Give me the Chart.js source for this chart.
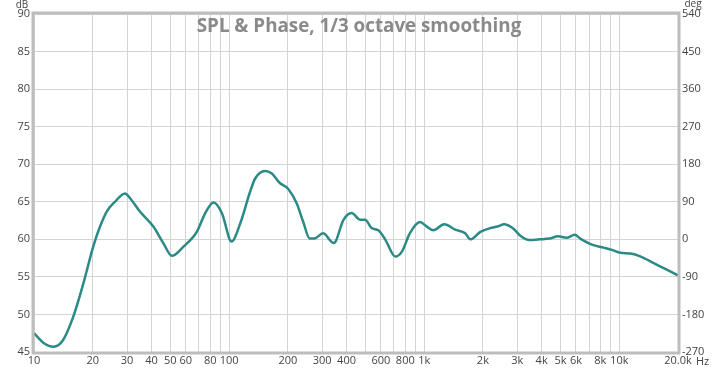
<!DOCTYPE html>
<html>
<head>
<meta charset="utf-8">
<script src="https://cdn.jsdelivr.net/npm/chart.js@4.4.1/dist/chart.umd.min.js"></script>
<style>
  html, body { margin: 0; padding: 0; background: #fff; }
  #wrap { width: 720px; height: 369px; position: relative; }
</style>
</head>
<body>
<div id="wrap"><canvas id="spl"></canvas></div>
<script>
// frequency (Hz) and SPL (dB)
var freqs = [10, 11.2, 12.6, 14.1, 15.9, 17.9, 20.1, 21.8, 23.6, 26, 29.3, 31, 34.9, 40.9, 46, 50.9,
  58.2, 68.3, 75.5, 83.2, 91.8, 103, 114, 128, 136, 153, 165, 182, 201, 222, 240, 259, 274, 303, 344,
  386, 425, 470, 498, 538, 582, 631, 711, 770, 844, 951, 1031, 1115, 1267, 1441, 1623, 1725, 1942,
  2187, 2373, 2572, 2839, 3134, 3460, 3898, 4392, 4855, 5358, 5912, 6310, 7242, 8314, 9178, 10130,
  11430, 12890, 15100, 17730, 20000];
var spl = [47.5, 46.2, 45.7, 46.6, 49.7, 54.1, 59.0, 61.7, 63.7, 65.0, 66.1, 65.5, 63.7, 61.7, 59.5, 57.8,
  59.0, 61.0, 63.5, 64.9, 63.5, 59.7, 62.1, 66.3, 68.1, 69.1, 68.8, 67.5, 66.7, 64.8, 62.3, 60.1, 60.1, 60.8, 59.5,
  62.6, 63.5, 62.6, 62.6, 61.5, 61.2, 60.0, 57.7, 58.4, 60.8, 62.3, 61.7, 61.2, 62.0, 61.3, 60.8, 60.0, 61.0,
  61.5, 61.7, 62.0, 61.5, 60.4, 59.9, 60.0, 60.1, 60.4, 60.2, 60.6, 60.1, 59.3, 58.9, 58.6, 58.2,
  58.1, 57.7, 56.8, 55.9, 55.2];

// x grid at every 1..9 step per decade, labels only on some
var xGrid = [];
[10, 100, 1000, 10000].forEach(function (d) {
  for (var m = 1; m <= 9; m++) { if (d * m <= 20000) xGrid.push(d * m); }
});
var xLabels = [10, 20, 30, 40, 50, 60, 80, 100, 200, 300, 400, 600, 800, 1000, 2000, 3000, 4000,
  5000, 6000, 8000, 10000, 20000];

var font = 'Open Sans, DejaVu Sans, sans-serif';
var tickColor = '#444';
var gridColor = '#d4d4d4';

var points = freqs.map(function (f, i) { return { x: f, y: spl[i] }; });

// frame, title and unit labels
var decor = {
  id: 'decor',
  beforeDraw: function (chart) {
    var ctx = chart.ctx;
    ctx.save();
    ctx.fillStyle = '#fff';
    ctx.fillRect(0, 0, chart.width, chart.height);
    ctx.restore();
  },
  afterDraw: function (chart) {
    var ctx = chart.ctx, a = chart.chartArea;
    ctx.save();
    ctx.strokeStyle = '#bdbdbd';
    ctx.lineWidth = 3;
    ctx.strokeRect(a.left - 1, a.top - 1, a.right - a.left + 2, a.bottom - a.top + 2);

    ctx.fillStyle = '#8a8a8a';
    ctx.font = 'bold 18.8px ' + font;
    ctx.textAlign = 'center';
    ctx.textBaseline = 'alphabetic';
    ctx.fillText('SPL & Phase, 1/3 octave smoothing', 359, 32);

    ctx.fillStyle = tickColor;
    ctx.font = '10px ' + font;
    ctx.textBaseline = 'middle';
    ctx.textAlign = 'center';
    ctx.fillText('dB', 22, 5);
    ctx.fillText('deg', 693, 4);
    ctx.textAlign = 'left';
    ctx.font = '11px ' + font;
    ctx.fillText('Hz', 696, 362);
    ctx.restore();
  }
};

new Chart(document.getElementById('spl').getContext('2d'), {
  type: 'line',
  data: {
    datasets: [{
      data: points,
      borderColor: '#2b8a86',
      borderWidth: 2.5,
      pointRadius: 0,
      tension: 0.4,
      cubicInterpolationMode: 'monotone',
      fill: false
    }]
  },
  options: {
    responsive: true,
    maintainAspectRatio: false,
    animation: false,
    layout: { padding: { top: 14, left: 0, right: 0, bottom: 0 } },
    plugins: { legend: { display: false }, tooltip: { enabled: false } },
    scales: {
      x: {
        type: 'logarithmic',
        min: 10,
        max: 20000,
        afterBuildTicks: function (scale) {
          scale.ticks = xGrid.map(function (v) { return { value: v }; });
        },
        afterFit: function (scale) { scale.height = 17; },
        ticks: {
          autoSkip: false,
          maxRotation: 0,
          padding: 2,
          color: tickColor,
          font: { family: font, size: 11 },
          callback: function (v) {
            if (xLabels.indexOf(v) < 0) return '';
            if (v === 20000) return '20.0k';
            return v >= 1000 ? (v / 1000) + 'k' : String(v);
          }
        },
        grid: { color: gridColor, drawTicks: false },
        border: { display: false }
      },
      y: {
        position: 'left',
        min: 45,
        max: 90,
        afterFit: function (scale) { scale.width = 34; },
        ticks: {
          stepSize: 5,
          padding: 4,
          color: tickColor,
          font: { family: font, size: 11 }
        },
        grid: { color: gridColor, drawTicks: false },
        border: { display: false }
      },
      y2: {
        position: 'right',
        display: true,
        min: -270,
        max: 540,
        afterFit: function (scale) { scale.width = 42; },
        ticks: {
          stepSize: 90,
          padding: 4,
          color: tickColor,
          font: { family: font, size: 11 }
        },
        grid: { display: false, drawTicks: false },
        border: { display: false }
      }
    }
  },
  plugins: [decor]
});
</script>
</body>
</html>
